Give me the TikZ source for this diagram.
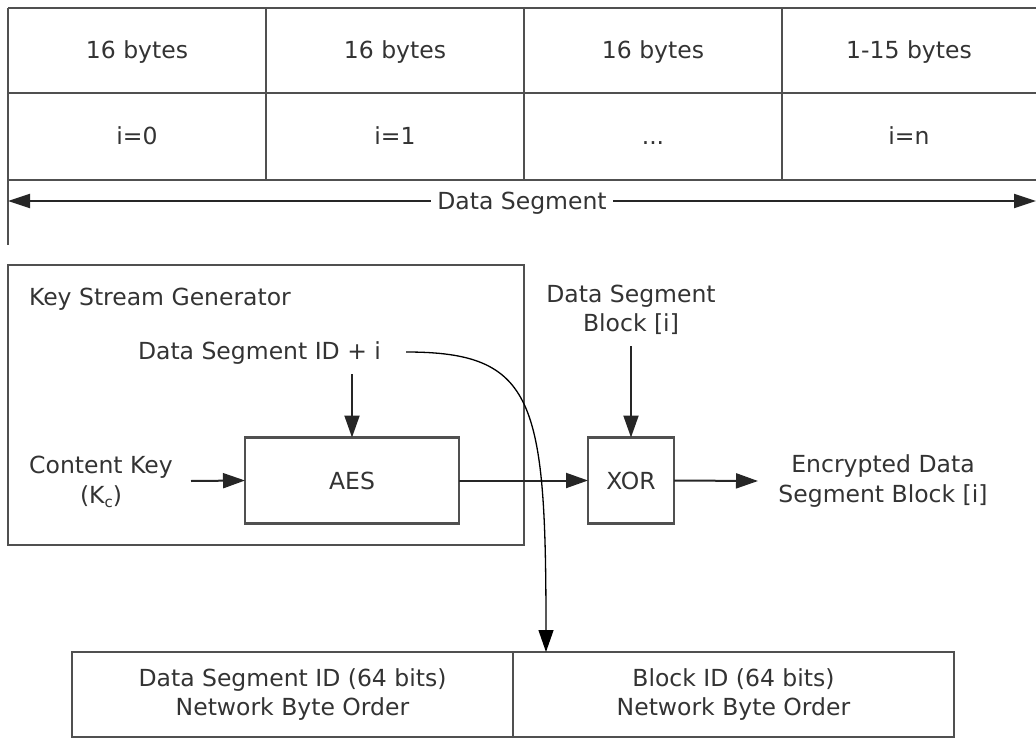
\documentclass[tikz,border=0pt]{standalone}
\usepackage{fontspec}
\setmainfont{DejaVu Sans}
\usetikzlibrary{arrows.meta}
\definecolor{linec}{HTML}{505050}
\definecolor{textc}{HTML}{333333}
\tikzset{
  lbl/.style={font=\fontsize{23.5}{29.5}\selectfont, text=textc, align=center, inner sep=0pt, outer sep=0pt},
  cell/.style={lbl, text height=17.5pt, text depth=5.5pt},
  boxnode/.style={lbl, draw=linec, line width=2.3pt},
  tbl/.style={draw=linec, line width=2.5pt},
  arr/.style={draw=black!85, line width=2pt, -{Triangle[length=22pt,width=15pt]}},
  carr/.style={draw=black, line width=1.3pt, -{Triangle[length=22pt,width=15pt]}},
  darr/.style={draw=black!85, line width=2pt, {Triangle[length=22pt,width=14pt]}-{Triangle[length=22pt,width=14pt]}}
}
\begin{document}
\begin{tikzpicture}[x=1pt,y=-1pt]
\useasboundingbox (0,0) rectangle (1036,738);
% top table
\draw[tbl] (8,8) -- (1036,8);
\draw[tbl] (8,93) -- (1036,93);
\draw[tbl] (8,180) -- (1036,180);
\draw[tbl] (8,8) -- (8,245);
\draw[tbl] (266,8) -- (266,180);
\draw[tbl] (524,8) -- (524,180);
\draw[tbl] (782,8) -- (782,180);
\node[cell] (b1) at (137,53) {16 bytes};
\node[cell] (b2) at (395,53) {16 bytes};
\node[cell] (b3) at (653,53) {16 bytes};
\node[cell] (b4) at (909,53) {1-15 bytes};
\node[cell] (i1) at (137,139) {i=0};
\node[cell] (i2) at (395,139) {i=1};
\node[cell] (i3) at (653,139) {...};
\node[cell] (i4) at (909,139) {i=n};
% data segment arrow
\coordinate (dsL) at (8,201);
\coordinate (dsR) at (1036,201);
\draw[darr] (dsL) -- (dsR);
\node[cell, fill=white, inner xsep=6pt] (dslabel) at (522,204) {Data Segment};
% key stream generator
\node[boxnode, minimum width=516pt, minimum height=280pt] (ksg) at (266,405) {};
\node[cell, anchor=west] (ksgt) at (29,299) {Key Stream Generator};
\node[cell] (dsid) at (259.5,353) {Data Segment ID + i};
\coordinate (dsidout) at (352,374);
\node[boxnode, minimum width=214pt, minimum height=86pt] (aes) at (352,480.5) {AES};
\node[lbl] (ckey) at (101,482) {Content Key\\(K\raisebox{-0.35ex}{\fontsize{15}{15}\selectfont c})};
\coordinate (ckeyout) at (191,481);
\node[boxnode, minimum width=86pt, minimum height=86pt] (xor) at (631,480.5) {XOR};
\node[lbl] (dsb) at (631,310) {Data Segment\\Block [i]};
\coordinate (dsbout) at (631,346);
\node[lbl] (enc) at (883,481) {Encrypted Data\\Segment Block [i]};
\coordinate (encin) at (758,481);
% bottom table
\node[boxnode, minimum width=441pt, minimum height=85pt] (dsidbox) at (292.5,694.5) {Data Segment ID (64 bits)\\Network Byte Order};
\node[boxnode, minimum width=441pt, minimum height=85pt] (blkbox) at (733.5,694.5) {Block ID (64 bits)\\Network Byte Order};
% connectors
\draw[arr] (dsidout) -- (aes.north);
\draw[arr] (ckeyout) -- (aes.west);
\draw[arr] (aes.east) -- (xor.west);
\draw[arr] (dsbout) -- (xor.north);
\draw[arr] (xor.east) -- (encin);
\coordinate (cstart) at (406,352);
\coordinate (cend) at (546,652);
\draw[carr] (cstart) .. controls (535,352) and (546,400) .. (cend);
\end{tikzpicture}
\end{document}
